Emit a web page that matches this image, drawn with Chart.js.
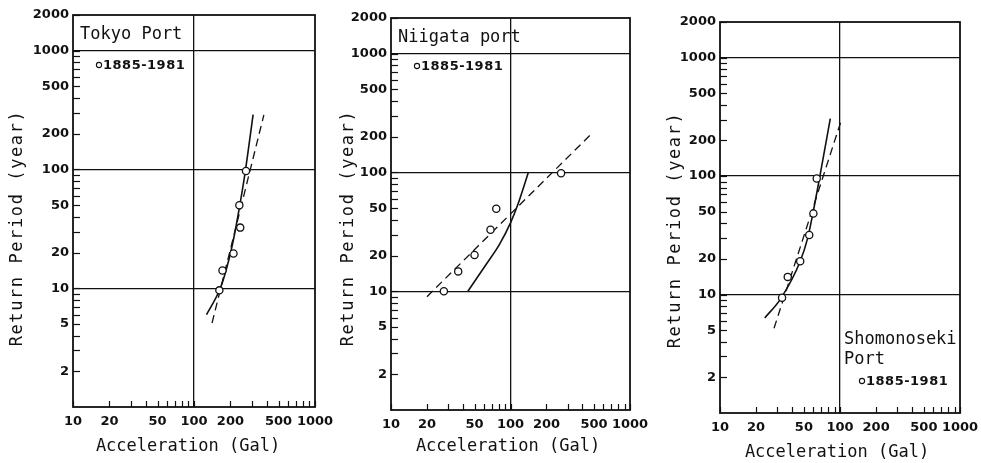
<!DOCTYPE html>
<html>
<head>
<meta charset="utf-8">
<script src="https://cdn.jsdelivr.net/npm/chart.js@4.4.1/dist/chart.umd.min.js"></script>
<style>
  html, body { margin: 0; padding: 0; background: #fff; }
  #wrap { position: relative; width: 981px; height: 463px; overflow: hidden; }
  canvas { position: absolute; top: 0; }
</style>
</head>
<body>
<div id="wrap">
  <canvas id="c1" width="345" height="463" style="left:0px"></canvas>
  <canvas id="c2" width="330" height="463" style="left:325px"></canvas>
  <canvas id="c3" width="326" height="463" style="left:655px"></canvas>
</div>
<script>
// axis ticks (log-log paper)
const Y_TICKS = [2,3,4,5,6,7,8,9,10,20,30,40,50,60,70,80,90,100,200,300,400,500,600,700,800,900,1000,2000];
const Y_LABELS = [2,5,10,20,50,100,200,500,1000,2000];
const X_TICKS = [10,20,30,40,50,60,70,80,90,100,200,300,400,500,600,700,800,900,1000];
const X_LABELS = [10,20,50,100,200,500,1000];
const Y_GRID = [10,100,1000];
const X_GRID = [100];

// Tokyo Port
const tokyoAcc    = [269, 237, 241, 212, 172, 162];
const tokyoPeriod = [97, 50, 32.4, 19.6, 14.1, 9.6];
const tokyoSolidX = [127, 163, 184, 208, 237, 263, 308];
const tokyoSolidY = [6.0, 9.7, 14.1, 23.4, 47.6, 90.6, 290];
const tokyoDashX  = [141, 378];
const tokyoDashY  = [5.1, 288];

// Niigata port
const niigataAcc    = [265, 76, 68, 50, 36.5, 27.7];
const niigataPeriod = [98.6, 49.5, 33, 20.2, 14.7, 10];
const niigataSolidX = [44, 62.7, 80.9, 100, 115, 141];
const niigataSolidY = [10, 16.9, 24.8, 37.6, 53.4, 100];
const niigataDashX  = [20, 490];
const niigataDashY  = [9, 218];

// Shimonoseki port
const shimoAcc    = [64, 60, 55.4, 46.6, 36.7, 32.9];
const shimoPeriod = [95.5, 48.3, 31.8, 19.1, 14.1, 9.4];
const shimoSolidX = [23.6, 32.1, 46.6, 53.7, 59.1, 67.1, 83];
const shimoSolidY = [6.35, 9.25, 19.1, 29.8, 47, 93, 306];
const shimoDashX  = [28.2, 102];
const shimoDashY  = [5.2, 291];

const LEGEND_TEXT = '1885-1981';
const Y_TITLE = 'Return Period (year)';
const X_TITLE = 'Acceleration (Gal)';

const INK = '#111';
const H = 463;

function pts(xs, ys) {
  return xs.map((x, i) => ({ x: x, y: ys[i] }));
}

// frame, inner tick marks and the texts printed on the paper
const paperPlugin = {
  id: 'paper',
  afterDraw(chart, args, o) {
    const { ctx, chartArea: a } = chart;
    const xs = chart.scales.x, ys = chart.scales.y;
    ctx.save();
    ctx.strokeStyle = INK;
    ctx.fillStyle = INK;
    ctx.lineWidth = 1.2;
    ys.ticks.forEach(t => {
      const py = Math.round(ys.getPixelForValue(t.value)) + 0.5;
      ctx.beginPath(); ctx.moveTo(a.left, py); ctx.lineTo(a.left + 7, py); ctx.stroke();
    });
    xs.ticks.forEach(t => {
      const px = Math.round(xs.getPixelForValue(t.value)) + 0.5;
      ctx.beginPath(); ctx.moveTo(px, a.bottom); ctx.lineTo(px, a.bottom - 6); ctx.stroke();
    });
    ctx.lineWidth = 1.8;
    ctx.strokeRect(a.left, a.top, a.right - a.left, a.bottom - a.top);

    // panel title
    ctx.font = '17px "DejaVu Sans Mono"';
    ctx.textAlign = 'left';
    ctx.textBaseline = 'alphabetic';
    o.title.forEach((line, i) => ctx.fillText(line, o.titleX, o.titleY + i * 20));

    // legend
    ctx.lineWidth = 1.1;
    ctx.beginPath(); ctx.arc(o.legX, o.legY, 2.6, 0, Math.PI * 2); ctx.stroke();
    ctx.font = 'bold 13px "DejaVu Sans"';
    ctx.letterSpacing = '0.5px';
    ctx.textBaseline = 'middle';
    ctx.fillText(LEGEND_TEXT, o.legX + 4, o.legY + 1);

    // axis titles
    ctx.font = '17px "DejaVu Sans Mono"';
    ctx.textAlign = 'center';
    ctx.letterSpacing = '0px';
    ctx.fillText(X_TITLE, o.xTitle[0], o.xTitle[1]);
    ctx.save();
    ctx.translate(o.yTitle[0], o.yTitle[1]);
    ctx.rotate(-Math.PI / 2);
    ctx.letterSpacing = '1.6px';
    ctx.fillText(Y_TITLE, 0, 0);
    ctx.restore();
    ctx.restore();
  }
};

function makePanel(p) {
  const canvas = document.getElementById(p.id);
  const W = canvas.width;
  const tickFont = { family: 'DejaVu Sans', size: 13, weight: 'bold' };
  new Chart(canvas, {
    type: 'scatter',
    data: {
      datasets: [
        {
          data: pts(p.acc, p.period),
          showLine: false,
          pointRadius: 3.6,
          pointBorderWidth: 1.3,
          pointBorderColor: INK,
          pointBackgroundColor: '#fff'
        },
        {
          data: pts(p.solidX, p.solidY),
          showLine: true,
          borderColor: INK,
          borderWidth: 1.6,
          pointRadius: 0,
          cubicInterpolationMode: 'monotone'
        },
        {
          data: pts(p.dashX, p.dashY),
          showLine: true,
          borderColor: INK,
          borderWidth: 1.3,
          borderDash: [8, 5],
          pointRadius: 0
        }
      ]
    },
    options: {
      responsive: false,
      animation: false,
      events: [],
      layout: { padding: { top: p.area.top, right: W - p.area.right, left: 0, bottom: 0 } },
      plugins: {
        legend: { display: false },
        tooltip: { enabled: false },
        paper: p.paper
      },
      scales: {
        x: {
          type: 'logarithmic',
          min: 10,
          max: 1000,
          afterBuildTicks: s => { s.ticks = X_TICKS.map(v => ({ value: v })); },
          afterFit: s => { s.height = H - p.area.bottom; s.paddingLeft = 0; s.paddingRight = 0; },
          border: { display: false },
          grid: {
            drawTicks: false,
            lineWidth: 1.3,
            color: c => (c.tick && X_GRID.includes(c.tick.value)) ? INK : 'rgba(0,0,0,0)'
          },
          ticks: {
            autoSkip: false,
            maxRotation: 0,
            padding: 7,
            color: INK,
            font: tickFont,
            callback: v => X_LABELS.includes(v) ? String(v) : ''
          }
        },
        y: {
          type: 'logarithmic',
          min: 1,
          max: 2000,
          afterBuildTicks: s => { s.ticks = Y_TICKS.map(v => ({ value: v })); },
          afterFit: s => { s.width = p.area.left; s.paddingTop = 0; s.paddingBottom = 0; },
          border: { display: false },
          grid: {
            drawTicks: false,
            lineWidth: 1.3,
            color: c => (c.tick && Y_GRID.includes(c.tick.value)) ? INK : 'rgba(0,0,0,0)'
          },
          ticks: {
            autoSkip: false,
            padding: 4,
            color: INK,
            font: tickFont,
            callback: v => Y_LABELS.includes(v) ? String(v) : ''
          }
        }
      }
    },
    plugins: [paperPlugin]
  });
}

makePanel({
  id: 'c1',
  acc: tokyoAcc, period: tokyoPeriod,
  solidX: tokyoSolidX, solidY: tokyoSolidY,
  dashX: tokyoDashX, dashY: tokyoDashY,
  area: { left: 73, right: 315, top: 15, bottom: 407 },
  paper: { title: ['Tokyo Port'], titleX: 80, titleY: 39, legX: 99, legY: 65, yTitle: [18, 228], xTitle: [188, 447] }
});

makePanel({
  id: 'c2',
  acc: niigataAcc, period: niigataPeriod,
  solidX: niigataSolidX, solidY: niigataSolidY,
  dashX: niigataDashX, dashY: niigataDashY,
  area: { left: 66, right: 305, top: 18, bottom: 410 },
  paper: { title: ['Niigata port'], titleX: 73, titleY: 42, legX: 92, legY: 66, yTitle: [24, 228], xTitle: [183, 447] }
});

makePanel({
  id: 'c3',
  acc: shimoAcc, period: shimoPeriod,
  solidX: shimoSolidX, solidY: shimoSolidY,
  dashX: shimoDashX, dashY: shimoDashY,
  area: { left: 65, right: 305, top: 22, bottom: 413 },
  paper: { title: ['Shomonoseki', 'Port'], titleX: 189, titleY: 344, legX: 207, legY: 381, yTitle: [21, 230], xTitle: [182, 453] }
});
</script>
</body>
</html>
